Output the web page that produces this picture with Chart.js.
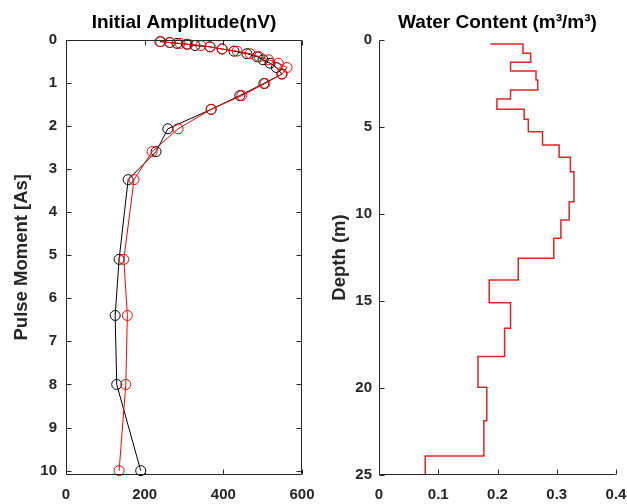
<!DOCTYPE html>
<html>
<head>
<meta charset="utf-8">
<script src="https://cdn.jsdelivr.net/npm/chart.js@4/dist/chart.umd.min.js"></script>
<style>
  html, body { margin: 0; padding: 0; background: #fff; }
  body { width: 627px; height: 504px; position: relative; overflow: hidden; }
  .box { position: absolute; top: 0; height: 504px; }
  #leftBox { left: 0; width: 318px; }
  #rightBox { left: 320px; width: 307px; }
</style>
</head>
<body>
<div class="box" id="leftBox"><canvas id="left"></canvas></div>
<div class="box" id="rightBox"><canvas id="right"></canvas></div>
<script>
// ---------- Data ----------
// Left panel: pulse moment (As) vs initial amplitude (nV)
const pulseMoments = [0.05, 0.07, 0.09, 0.11, 0.14, 0.17, 0.22, 0.27, 0.33, 0.40, 0.47, 0.55, 0.65, 0.80, 1.02, 1.30, 1.62, 2.07, 2.60, 3.25, 5.10, 6.40, 8.00, 10.00];
const amplitudeBlack = [239, 264, 282, 307, 328, 366, 397, 427, 460, 486, 501, 519, 535, 549, 503, 442, 369, 259, 229, 158, 135, 125, 129, 190];
const amplitudeRed   = [241, 264, 290, 310, 343, 366, 397, 435, 468, 491, 515, 540, 562, 549, 506, 447, 369, 285, 219, 173, 147, 156, 152, 135];
const leftXTicks = [0, 200, 400, 600];
const leftYTicks = [0, 1, 2, 3, 4, 5, 6, 7, 8, 9, 10];

// Right panel: water content (m3/m3) vs depth (m), drawn as stairs
const waterContent = [0.188, 0.243, 0.256, 0.222, 0.265, 0.268, 0.222, 0.199, 0.245, 0.252, 0.276, 0.304, 0.323, 0.329, 0.321, 0.307, 0.295, 0.235, 0.186, 0.222, 0.212, 0.167, 0.182, 0.177, 0.078];
const layerDepth   = [0.23, 0.76, 1.28, 1.78, 2.30, 2.87, 3.39, 3.98, 4.56, 5.27, 6.03, 6.74, 7.57, 9.29, 10.34, 11.40, 12.55, 13.79, 15.10, 16.57, 18.19, 19.96, 21.88, 23.91, 25.0];
const rightXTicks = [0, 0.1, 0.2, 0.3, 0.4];
const rightYTicks = [0, 5, 10, 15, 20, 25];

// ---------- Helpers ----------
const AXIS_COLOR = '#262626';
const FONT_FAMILY = "'Liberation Sans', Arial, Helvetica, sans-serif";
Chart.defaults.font.family = FONT_FAMILY;
Chart.defaults.color = AXIS_COLOR;

function setTicks(values) {
  return function (scale) { scale.ticks = values.map(v => ({ value: v })); };
}

const frameAndTicks = {
  id: 'frameAndTicks',
  afterDraw(chart, args, opts) {
    const { ctx, chartArea: a, scales } = chart;
    const L = 5;
    ctx.save();
    ctx.strokeStyle = AXIS_COLOR;
    ctx.lineWidth = 1;
    ctx.beginPath();
    const left = Math.round(a.left) + 0.5, right = Math.round(a.right) - 0.5;
    const top = Math.round(a.top) + 0.5, bottom = Math.round(a.bottom) - 0.5;
    ctx.moveTo(left, top); ctx.lineTo(left, bottom); ctx.lineTo(right, bottom);
    if (opts.box) { ctx.lineTo(right, top); ctx.lineTo(left, top); }
    scales.x.ticks.forEach(t => {
      const p = Math.round(scales.x.getPixelForValue(t.value)) + 0.5;
      ctx.moveTo(p, bottom); ctx.lineTo(p, bottom - L);
      if (opts.box) { ctx.moveTo(p, top); ctx.lineTo(p, top + L); }
    });
    scales.y.ticks.forEach(t => {
      const p = Math.round(scales.y.getPixelForValue(t.value)) + 0.5;
      ctx.moveTo(left, p); ctx.lineTo(left + L, p);
      if (opts.box) { ctx.moveTo(right, p); ctx.lineTo(right - L, p); }
    });
    ctx.stroke();
    ctx.restore();
  }
};

const tickFont = { size: 15, weight: 'bold', family: FONT_FAMILY };
const titleFont = { size: 19, weight: 'bold', family: FONT_FAMILY };
const labelFont = { size: 18.5, weight: 'bold', family: FONT_FAMILY };

function fitX(s) { s.height = 29; s.paddingLeft = 0; s.paddingRight = 0; }
function fitYLeft(s) { s.width = 66; s.paddingTop = 0; s.paddingBottom = 0; }
function fitYRight(s) { s.width = 59; s.paddingTop = 0; s.paddingBottom = 0; }

// ---------- Left chart ----------
const blackPts = pulseMoments.map((q, i) => ({ x: amplitudeBlack[i], y: q }));
const redPts = pulseMoments.map((q, i) => ({ x: amplitudeRed[i], y: q }));

new Chart(document.getElementById('left'), {
  type: 'scatter',
  data: {
    datasets: [
      { data: redPts, showLine: true, borderColor: '#ff0000', backgroundColor: 'rgba(0,0,0,0)', borderWidth: 1,
        pointRadius: 5, pointBorderWidth: 1, pointBorderColor: '#ff0000', pointBackgroundColor: 'rgba(0,0,0,0)', clip: false },
      { data: blackPts, showLine: true, borderColor: '#000000', backgroundColor: 'rgba(0,0,0,0)', borderWidth: 1,
        pointRadius: 5, pointBorderWidth: 1, pointBorderColor: '#000000', pointBackgroundColor: 'rgba(0,0,0,0)', clip: false }
    ]
  },
  options: {
    responsive: true, maintainAspectRatio: false, animation: false,
    layout: { padding: { left: 0, right: 16, top: 0, bottom: 0 } },
    plugins: {
      legend: { display: false }, tooltip: { enabled: false },
      title: { display: true, text: 'Initial Amplitude(nV)', fullSize: false, font: titleFont, color: '#000',
               padding: { top: 11.6, bottom: 5.1 } },
      frameAndTicks: { box: true }
    },
    scales: {
      x: {
        type: 'linear', min: 0, max: 600,
        afterBuildTicks: setTicks(leftXTicks),
        afterFit: fitX,
        grid: { display: false, drawTicks: false }, border: { display: false },
        ticks: { font: tickFont, color: AXIS_COLOR, padding: 11, maxRotation: 0 }
      },
      y: {
        type: 'linear', reverse: true, min: 0, max: 10.1,
        afterBuildTicks: setTicks(leftYTicks),
        afterFit: fitYLeft,
        grid: { display: false, drawTicks: false }, border: { display: false },
        ticks: { font: tickFont, color: AXIS_COLOR, padding: 9 },
        title: { display: true, text: 'Pulse Moment [As]', font: labelFont, color: AXIS_COLOR, padding: { top: 10.9, bottom: 0 } }
      }
    }
  },
  plugins: [frameAndTicks]
});

// ---------- Right chart ----------
const stairPts = [];
for (let i = 0; i < waterContent.length; i++) {
  if (i === 0) {
    stairPts.push({ x: waterContent[0], y: layerDepth[0] });
  } else {
    stairPts.push({ x: waterContent[i], y: layerDepth[i - 1] });
    stairPts.push({ x: waterContent[i], y: layerDepth[i] });
  }
}

new Chart(document.getElementById('right'), {
  type: 'scatter',
  data: {
    datasets: [
      { data: stairPts, showLine: true, borderColor: '#dc2626', backgroundColor: 'rgba(0,0,0,0)', borderWidth: 1.5,
        pointRadius: 0, tension: 0 }
    ]
  },
  options: {
    responsive: true, maintainAspectRatio: false, animation: false,
    layout: { padding: { left: 0, right: 11, top: 0, bottom: 0 } },
    plugins: {
      legend: { display: false }, tooltip: { enabled: false },
      title: { display: true, text: 'Water Content (m³/m³)', fullSize: false, font: titleFont, color: '#000',
               padding: { top: 11.6, bottom: 5.6 } },
      frameAndTicks: { box: false }
    },
    scales: {
      x: {
        type: 'linear', min: 0, max: 0.4,
        afterBuildTicks: setTicks(rightXTicks),
        afterFit: fitX,
        grid: { display: false, drawTicks: false }, border: { display: false },
        ticks: { font: tickFont, color: AXIS_COLOR, padding: 11, maxRotation: 0,
                 callback: v => (v === 0 ? '0' : v.toFixed(1)) }
      },
      y: {
        type: 'linear', reverse: true, min: 0, max: 25,
        afterBuildTicks: setTicks(rightYTicks),
        afterFit: fitYRight,
        grid: { display: false, drawTicks: false }, border: { display: false },
        ticks: { font: tickFont, color: AXIS_COLOR, padding: 7 },
        title: { display: true, text: 'Depth (m)', font: labelFont, color: AXIS_COLOR, padding: { top: 8.9, bottom: 0 } }
      }
    }
  },
  plugins: [frameAndTicks]
});
</script>
</body>
</html>
